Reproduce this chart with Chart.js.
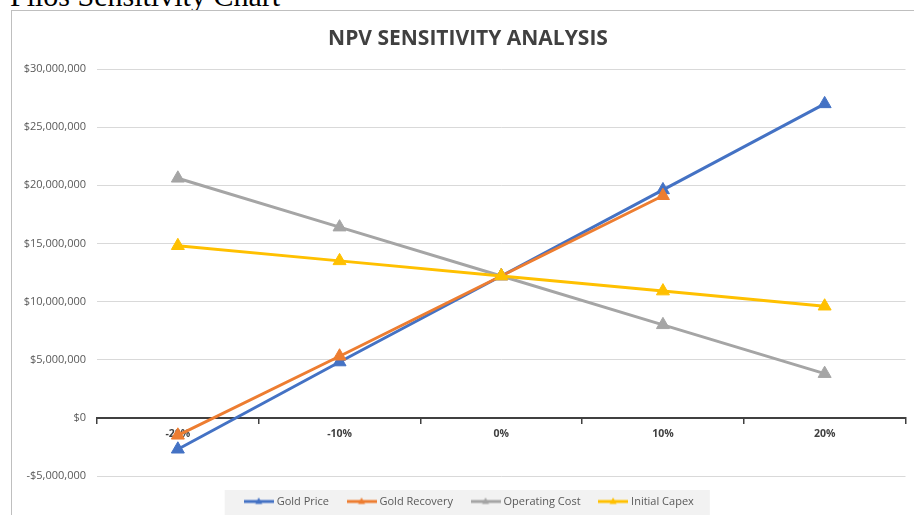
<!DOCTYPE html>
<html>
<head>
<meta charset="utf-8">
<script src="https://cdn.jsdelivr.net/npm/chart.js@4"></script>
<style>
  html, body { margin: 0; padding: 0; background: #fff; overflow: hidden; }
  body { width: 914px; height: 515px; position: relative; }
  .page-title {
    position: absolute; left: 10px; top: -19px;
    font-family: "Liberation Serif", "Times New Roman", serif;
    font-size: 30px; line-height: 30px; color: #000; white-space: nowrap;
  }
  .chart-box {
    position: absolute; left: 11px; top: 10px;
    width: 920px; height: 520px;
    border: 1px solid #bfbfbf; background: #fff;
  }
  .chart-box canvas { position: absolute; left: 0; top: 0; }
</style>
</head>
<body>
<div class="page-title">Pilos Sensitivity Chart</div>
<div class="chart-box">
  <canvas id="graficoNPV" width="902" height="504"></canvas>
</div>
<script>
// dados (US$)
const categorias = ['-20%', '-10%', '0%', '10%', '20%'];
const goldPrice = [-2700000, 4800000, 12200000, 19600000, 27000000];
const goldRecovery = [-1500000, 5300000, 12200000, 19100000, null];
const operatingCost = [20600000, 16400000, 12200000, 8000000, 3800000];
const initialCapex = [14800000, 13500000, 12200000, 10900000, 9600000];
const nomesSeries = ['Gold Price', 'Gold Recovery', 'Operating Cost', 'Initial Capex'];
const cores = ['#4472C4', '#ED7D31', '#A5A5A5', '#FFC000'];

const textColor = '#595959';
const fonte = '"Open Sans", "Liberation Sans", sans-serif';

// ícone da legenda: linha com triângulo no meio
function iconeLegenda(cor) {
  const c = document.createElement('canvas');
  c.width = 30; c.height = 10;
  const g = c.getContext('2d');
  g.strokeStyle = cor;
  g.lineWidth = 3;
  g.beginPath(); g.moveTo(0, 5); g.lineTo(30, 5); g.stroke();
  g.fillStyle = cor;
  g.beginPath(); g.moveTo(15, 1); g.lineTo(18.5, 7.5); g.lineTo(11.5, 7.5); g.closePath(); g.fill();
  return c;
}

// título e legenda um pouco à direita (como no Excel) + fundo cinza atrás da legenda
const fundoLegenda = {
  id: 'fundoLegenda',
  afterLayout(chart) {
    const tb = chart.titleBlock;
    if (tb) { tb.left += 7; tb.right += 7; }
    const lg = chart.legend;
    if (!lg) return;
    const dx = 9;
    lg.left += dx;
    lg.right += dx;
    (lg.legendHitBoxes || []).forEach(b => { b.left += dx; });
  },
  beforeDraw(chart) {
    const boxes = chart.legend && chart.legend.legendHitBoxes;
    if (!boxes || !boxes.length) return;
    const first = boxes[0], last = boxes[boxes.length - 1];
    const x0 = first.left - 21.5;
    const x1 = last.left + last.width + 16;
    const ctx = chart.ctx;
    ctx.save();
    ctx.fillStyle = '#f2f2f2';
    ctx.fillRect(x0, first.top - 6, x1 - x0, chart.height);
    ctx.restore();
  }
};

const series = [goldPrice, goldRecovery, operatingCost, initialCapex];

new Chart(document.getElementById('graficoNPV').getContext('2d'), {
  type: 'line',
  data: {
    labels: categorias,
    datasets: series.map((d, i) => ({
      label: nomesSeries[i],
      data: d,
      borderColor: cores[i],
      backgroundColor: cores[i],
      borderWidth: 3,
      pointStyle: 'triangle',
      pointRadius: 7.5,
      pointBorderWidth: 1,
      pointHoverRadius: 7.5,
      fill: false,
      tension: 0,
      order: 4 - i
    }))
  },
  options: {
    responsive: false,
    animation: false,
    layout: { padding: { left: 0, right: 4, top: 0, bottom: -2 } },
    plugins: {
      tooltip: { enabled: false },
      title: {
        display: true,
        text: 'NPV SENSITIVITY ANALYSIS',
        color: '#404040',
        font: { family: fonte, size: 21, weight: 'bold' },
        padding: { top: 15.4, bottom: 17.4 }
      },
      legend: {
        position: 'bottom',
        labels: {
          color: textColor,
          font: { family: fonte, size: 11 },
          usePointStyle: true,
          pointStyleWidth: 25,
          padding: 20,
          sort: (a, b) => a.datasetIndex - b.datasetIndex,
          generateLabels: (chart) => chart.data.datasets.map((ds, i) => ({
            text: ds.label,
            datasetIndex: i,
            fillStyle: ds.borderColor,
            strokeStyle: ds.borderColor,
            fontColor: textColor,
            lineWidth: 0,
            pointStyle: iconeLegenda(ds.borderColor),
            hidden: false
          }))
        }
      }
    },
    scales: {
      x: {
        position: { y: 0 },
        offset: true,
        grid: {
          offset: true,
          drawOnChartArea: false,
          drawTicks: true,
          tickLength: 5,
          color: '#404040',
          lineWidth: 1.5
        },
        border: { display: true, color: '#404040', width: 2 },
        ticks: {
          color: '#404040',
          padding: 5,
          maxRotation: 0,
          font: { family: fonte, size: 10.5, weight: 'bold' }
        }
      },
      y: {
        min: -5000000,
        max: 30000000,
        afterFit: (s) => { s.width = 85; },
        grid: { color: '#d9d9d9', drawTicks: false },
        border: { display: false },
        ticks: {
          stepSize: 5000000,
          padding: 11,
          color: textColor,
          font: { family: fonte, size: 11 },
          callback: (v) => (v < 0 ? '-' : '') + '$' + Math.abs(v).toLocaleString('en-US')
        }
      }
    }
  },
  plugins: [fundoLegenda]
});
</script>
</body>
</html>
